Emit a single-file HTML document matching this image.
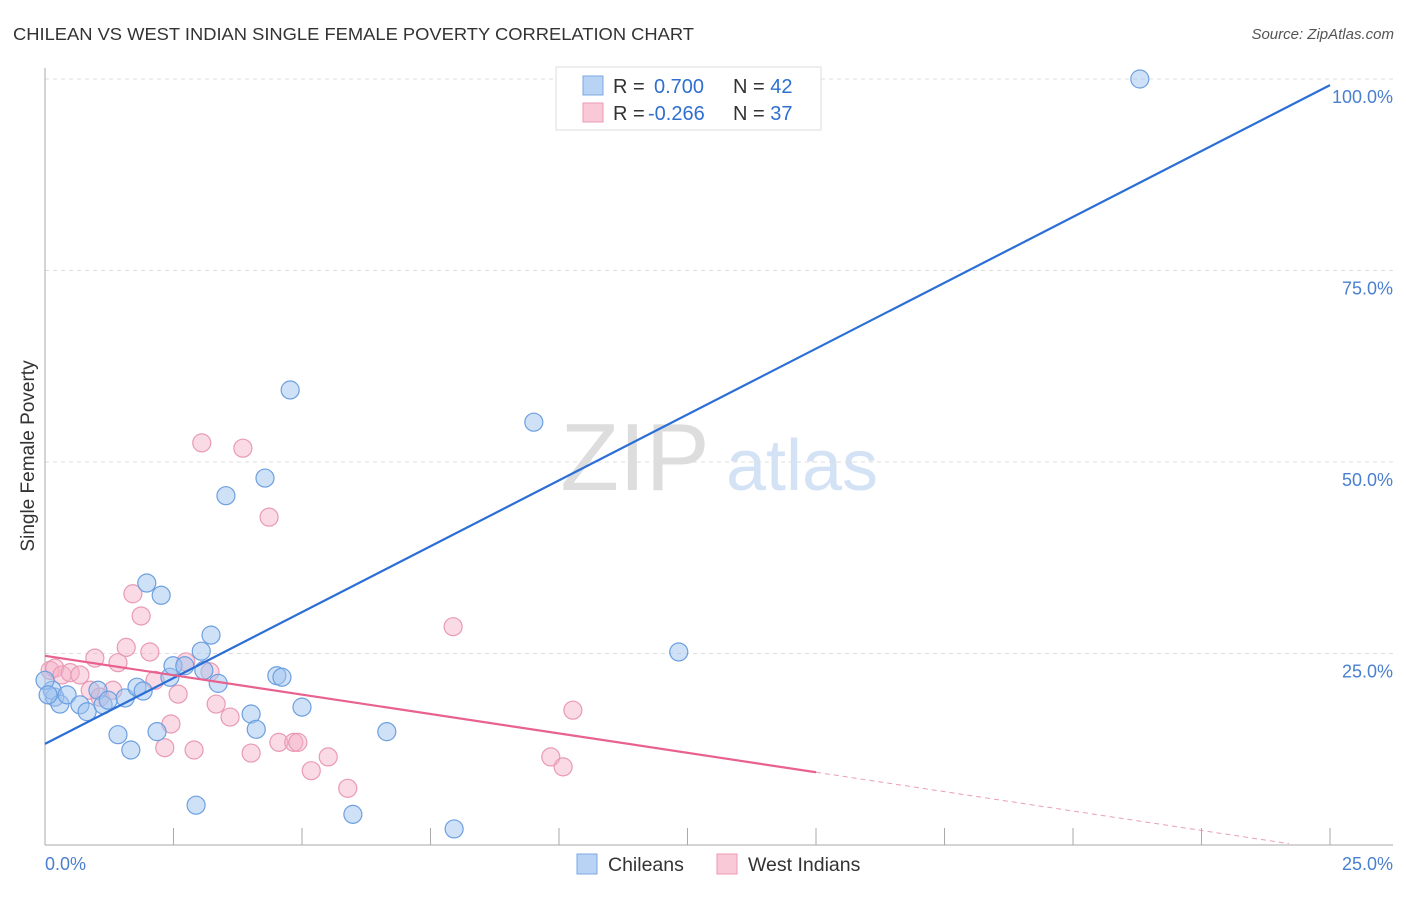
<!DOCTYPE html>
<html><head><meta charset="utf-8"><style>
body{margin:0;background:#fff;font-family:"Liberation Sans",sans-serif;}
svg text{font-family:"Liberation Sans",sans-serif;}
</style></head><body>
<svg id="chart" width="1406" height="892" xmlns="http://www.w3.org/2000/svg">
<text x="13" y="40" font-size="17.5" fill="#333" textLength="681" lengthAdjust="spacingAndGlyphs">CHILEAN VS WEST INDIAN SINGLE FEMALE POVERTY CORRELATION CHART</text>
<text x="1394" y="39" font-size="15" fill="#555" text-anchor="end" font-style="italic">Source: ZipAtlas.com</text>
<text transform="translate(34,456) rotate(-90)" font-size="19" fill="#333" text-anchor="middle">Single Female Poverty</text>
<g>
<text x="635" y="490" font-size="96" fill="#ddd" text-anchor="middle" font-family="Liberation Serif,serif">ZIP</text>
<text x="802" y="490" font-size="72" fill="#d4e2f5" text-anchor="middle">atlas</text>
</g>
<g id="grid"></g>
<g id="axes"></g>
<g id="points"></g>
<g id="lines"></g>
<g>
<rect x="556" y="67" width="265" height="63" fill="#fff" stroke="#ddd"/>
<rect x="583" y="76" width="20" height="19" fill="#b9d3f5" stroke="#7aa7e3"/>
<rect x="583" y="103" width="20" height="19" fill="#f9c9d8" stroke="#ec9ab3"/>
<text x="613" y="93" font-size="20" fill="#333">R = <tspan x="654" fill="#2f6fd0">0.700</tspan><tspan x="733" fill="#333">N = </tspan><tspan fill="#2f6fd0">42</tspan></text>
<text x="613" y="120" font-size="20" fill="#333">R = <tspan x="648" fill="#2f6fd0">-0.266</tspan><tspan x="733" fill="#333">N = </tspan><tspan fill="#2f6fd0">37</tspan></text>
</g>
<g>
<rect x="577" y="854" width="20" height="20" fill="#b9d3f5" stroke="#7aa7e3"/>
<text x="608" y="871" font-size="19.5" fill="#333">Chileans</text>
<rect x="717" y="854" width="20" height="20" fill="#f9c9d8" stroke="#ec9ab3"/>
<text x="748" y="871" font-size="19.5" fill="#333">West Indians</text>
</g>
</svg>
<script>
const xTicks=[0,2.5,5,7.5,10,12.5,15,17.5,20,22.5,25];
const yTicks=[25,50,75,100];
const yTickLabels=["25.0%","50.0%","75.0%","100.0%"];
const chileansX=[0.19,0.14,0.29,0.43,0.68,0.82,1.03,1.13,1.23,1.42,1.56,1.67,1.79,1.91,1.98,2.18,2.26,2.43,2.49,2.72,2.94,3.04,3.09,3.23,3.37,3.52,4.01,4.11,4.28,4.51,4.61,4.77,5.00,5.99,6.65,7.96,9.51,12.33,21.30,14.69,0.0,0.06];
const chileansY=[19.3,20.2,18.4,19.6,18.3,17.4,20.2,18.3,18.9,14.4,19.2,12.4,20.6,20.1,34.2,14.8,32.6,21.9,23.4,23.4,5.2,25.3,22.8,27.4,21.1,45.6,17.1,15.1,47.9,22.1,21.9,59.4,18.0,4.0,14.8,2.1,55.2,25.2,100,100,21.5,19.6];
const westX=[0.1,0.19,0.33,0.49,0.68,0.97,0.88,1.07,1.32,1.42,1.58,1.71,1.87,2.04,2.14,2.33,2.45,2.59,2.74,2.9,3.05,3.21,3.33,3.6,3.85,4.01,4.36,4.55,4.84,4.92,5.18,5.51,5.89,7.94,9.84,10.08,10.27];
const westY=[22.8,23.1,22.2,22.5,22.2,24.4,20.2,19.3,20.2,23.8,25.8,32.8,29.9,25.2,21.5,12.7,15.8,19.7,23.9,12.4,52.5,22.6,18.4,16.7,51.8,12.0,42.8,13.4,13.4,13.4,9.7,11.5,7.4,28.5,11.5,10.2,17.6];
const blueLine=[13.2,99.2];
const pinkLine=[24.7,9.5];
const NS="http://www.w3.org/2000/svg";
const X=v=>45+v*51.4, Y=v=>845-v*7.66;
function mk(tag,attrs,parent){const e=document.createElementNS(NS,tag);for(const k in attrs)e.setAttribute(k,attrs[k]);document.getElementById(parent).appendChild(e);return e;}
yTicks.forEach((t,i)=>{
 const g=mk('line',{x1:45,x2:1393,y1:Y(t),y2:Y(t),stroke:'#ddd','stroke-dasharray':'4,4'},'grid');
 
 
 const l=mk('text',{x:1393,y:Y(t)+24,'font-size':18,fill:'#4a7fd0','text-anchor':'end'},'axes');
 l.textContent=yTickLabels[i];
 
 
});
const ya=mk('line',{x1:45,x2:45,y1:68,y2:845,stroke:'#aaa'},'axes');


const xa=mk('line',{x1:45,x2:1393,y1:845,y2:845,stroke:'#aaa'},'axes');


xTicks.forEach(t=>{
 const k=mk('line',{x1:X(t),x2:X(t),y1:828,y2:845,stroke:'#aaa'},'axes');
 
 
});
const x0=mk('text',{x:45,y:870,'font-size':18,fill:'#4a7fd0'},'axes');x0.textContent='0.0%';


const x1=mk('text',{x:1393,y:870,'font-size':18,fill:'#4a7fd0','text-anchor':'end'},'axes');x1.textContent='25.0%';


westX.forEach((v,i)=>{
 const c=mk('circle',{cx:X(v),cy:Y(westY[i]),r:9,fill:'rgba(245,175,198,0.45)',stroke:'#e99ab4','stroke-width':1.2},'points');
 
 
});
chileansX.forEach((v,i)=>{
 const c=mk('circle',{cx:X(v),cy:Y(chileansY[i]),r:9,fill:'rgba(160,195,240,0.5)',stroke:'#6d9fe0','stroke-width':1.2},'points');
 
 
});
const bl=mk('line',{x1:X(0),y1:Y(blueLine[0]),x2:X(25),y2:Y(blueLine[1]),stroke:'#2b6fd6','stroke-width':2.2},'lines');


const slope=(pinkLine[1]-pinkLine[0])/15;
const pl=mk('line',{x1:X(0),y1:Y(pinkLine[0]),x2:X(15),y2:Y(pinkLine[1]),stroke:'#e8618f','stroke-width':2.2},'lines');


const pd=mk('line',{x1:X(15),y1:Y(pinkLine[1]),x2:X(24.2),y2:Y(pinkLine[0]+slope*24.2),stroke:'#e8a0b8','stroke-width':1,'stroke-dasharray':'5,4'},'lines');


</script>
</body></html>
